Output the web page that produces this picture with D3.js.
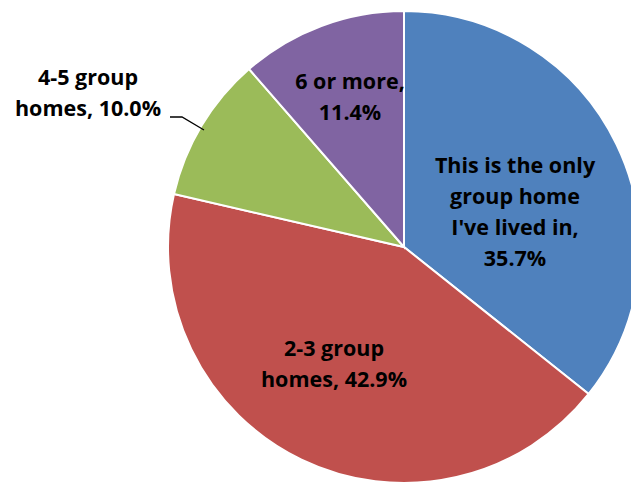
<!DOCTYPE html>
<html>
<head>
<meta charset="utf-8">
<script src="https://cdn.jsdelivr.net/npm/d3@7"></script>
<style>
  body { margin: 0; background: #fff; }
  svg { display: block; }
</style>
</head>
<body>
<script>
const categories = ["This is the only group home I've lived in", "2-3 group homes", "4-5 group homes", "6 or more"];
const values = [35.7, 42.9, 10.0, 11.4];
const colors = ["#4F81BD", "#C0504D", "#9BBB59", "#8064A2"];
const labelLines = [
    ["This is the only", "group home", "I've lived in,", "35.7%"],
    ["2-3 group", "homes, 42.9%"],
    ["4-5 group", "homes, 10.0%"],
    ["6 or more,", "11.4%"]
];

const svgWidth = 631;
const svgHeight = 483;
const cx = 404, cy = 247, radius = 236;

const svg = d3.select('body')
    .append('svg')
    .attr('width', svgWidth)
    .attr('height', svgHeight);

const data = values.map((v, i) => ({ name: categories[i], value: v, color: colors[i], lines: labelLines[i] }));

const pie = d3.pie().value(d => d.value).sort(null);
const arc = d3.arc().innerRadius(0).outerRadius(radius);
const arcs = pie(data);

const g = svg.append('g').attr('transform', `translate(${cx},${cy})`);

g.selectAll('path')
    .data(arcs)
    .enter()
    .append('path')
    .attr('d', arc)
    .attr('fill', d => d.data.color)
    .attr('stroke', '#fff')
    .attr('stroke-width', 2);

// label centres relative to pie centre
const labelPos = [[111, -35], [-70, 117], [-316, -154], [-54, -150]];

// leader line for the small green slice
g.append('polyline')
    .attr('points', [[-234, -130], [-222, -130], [-200, -117]].map(p => p.join(',')).join(' '))
    .attr('fill', 'none')
    .attr('stroke', '#000')
    .attr('stroke-width', 1.3);

const lineH = 31;
arcs.forEach((d, i) => {
    const [lx, ly] = labelPos[i];
    const n = d.data.lines.length;
    const t = g.append('text')
        .attr('text-anchor', 'middle')
        .style('font-family', 'Open Sans, sans-serif')
        .style('font-weight', 'bold')
        .style('font-size', '21.5px')
        .attr('fill', '#000');
    d.data.lines.forEach((line, j) => {
        t.append('tspan')
            .attr('x', lx)
            .attr('y', ly + (j - (n - 1) / 2) * lineH)
            .attr('dy', '0.35em')
            .text(line);
    });
});
</script>
</body>
</html>
